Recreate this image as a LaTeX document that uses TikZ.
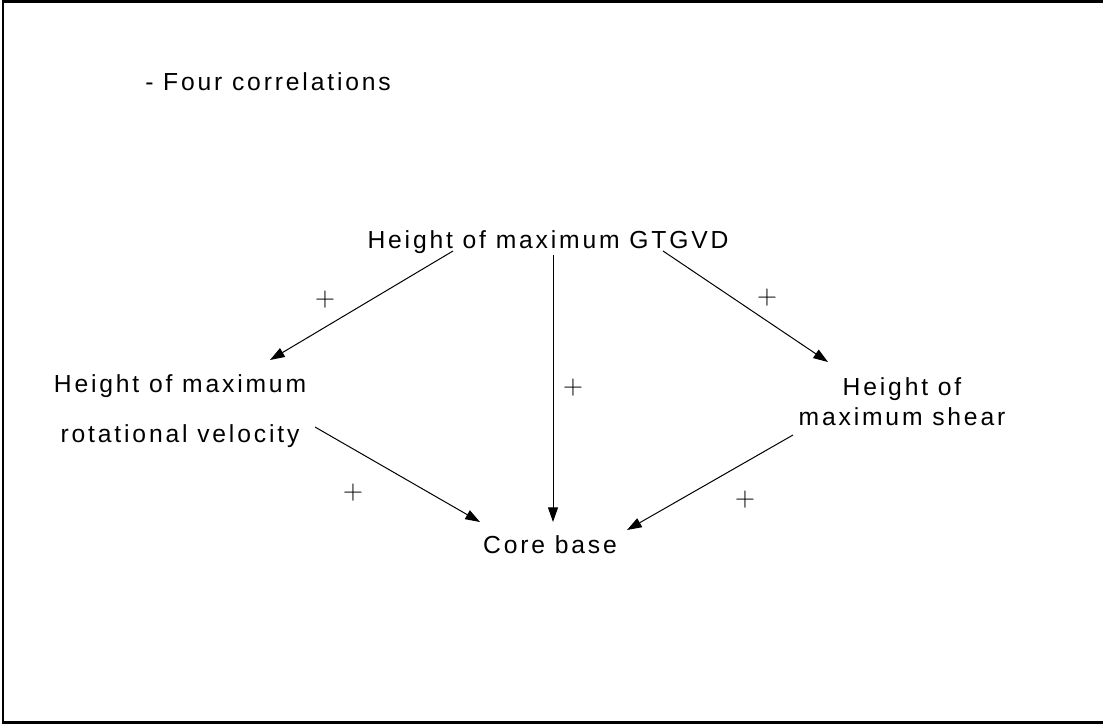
\documentclass[tikz,border=0pt]{standalone}
\usepackage{fontspec}
\setmainfont{Liberation Sans}[LetterSpace=11.5]
\usetikzlibrary{arrows.meta}
\begin{document}
\begin{tikzpicture}[x=0.75pt,y=-0.75pt,
  lbl/.style={inner sep=0pt,anchor=base,font=\fontsize{18.5}{22}\selectfont},
  plus/.style={inner sep=0pt,font=\fontsize{20}{24}\selectfont},
  conn/.style={line width=0.75pt,-{Triangle[length=11pt,width=7.5pt]}}]
\useasboundingbox (0,0) rectangle (1103,724);
\draw[line width=1.6pt] (1103,1.5) -- (3,1.5) -- (3,722.5) -- (1103,722.5);

\node[lbl,anchor=base west] (title) at (145,90) {- Four correlations};
\node[lbl] (top) at (548,248) {Height of maximum GTGVD};
\node[lbl,align=center] (left) at (180,442) {Height of maximum\\[15pt]rotational velocity};
\node[lbl,align=center] (right) at (902,425) {Height of\\[0pt]maximum shear};
\node[lbl] (core) at (550,553) {Core base};

\draw[conn] ([shift={(-95,3)}]top.base) -- ([shift={(90,-82)}]left.base);
\draw[conn] ([shift={(5,7)}]top.base) -- ([shift={(3,-31)}]core.base);
\draw[conn] ([shift={(115,3)}]top.base) -- ([shift={(-74,-63)}]right.base);
\draw[conn] ([shift={(135,-15)}]left.base) -- ([shift={(-70,-31)}]core.base);
\draw[conn] ([shift={(-109,10)}]right.base) -- ([shift={(77,-23)}]core.base);

\node[plus] (p1) at (325,300) {$+$};
\node[plus] (p2) at (573,388) {$+$};
\node[plus] (p3) at (767,298) {$+$};
\node[plus] (p4) at (353,493) {$+$};
\node[plus] (p5) at (745,500) {$+$};
\end{tikzpicture}
\end{document}
